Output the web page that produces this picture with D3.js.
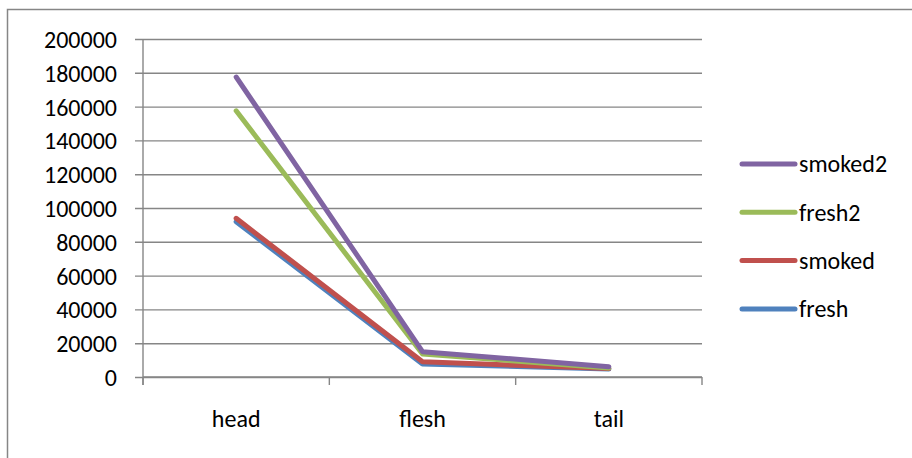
<!DOCTYPE html>
<html>
<head>
<meta charset="utf-8">
<script src="https://cdn.jsdelivr.net/npm/d3@7"></script>
<style>
  body { margin: 0; background: #fff; }
  svg { display: block; }
  text { font-family: Carlito, Lato, sans-serif; fill: #000; }
</style>
</head>
<body>
<div id="graph"></div>
<script>
const categories = ["head", "flesh", "tail"];
const seriesNames = ["fresh", "smoked", "fresh2", "smoked2"];
const fresh = [91900, 7700, 4700];
const smoked = [93900, 9000, 5000];
const fresh2 = [157500, 13600, 5300];
const smoked2 = [177500, 15000, 6100];
const yTicks = [0, 20000, 40000, 60000, 80000, 100000, 120000, 140000, 160000, 180000, 200000];

const colors = {fresh: "#4F81BD", smoked: "#C0504D", fresh2: "#9BBB59", smoked2: "#8064A2"};
const seriesValues = {fresh, smoked, fresh2, smoked2};

const width = 912;
const height = 458;
const margin = {top: 39, bottom: 81, left: 143, right: 210};

const svg = d3.select("#graph")
    .append("svg")
    .attr("width", width)
    .attr("height", height);

// chart area border (right and bottom fall outside the picture)
svg.append("rect")
    .attr("x", 7.5).attr("y", 9.5)
    .attr("width", 1000).attr("height", 1000)
    .attr("fill", "none")
    .attr("stroke", "#868686")
    .attr("stroke-width", 1.5);

const x = d3.scaleBand()
    .domain(categories)
    .range([margin.left, width - margin.right]);

const y = d3.scaleLinear()
    .domain([0, 200000])
    .range([height - margin.bottom, margin.top]);

// gridlines + y axis
svg.append("g")
    .attr("transform", `translate(${margin.left}, 0)`)
    .call(d3.axisLeft(y).tickValues(yTicks).tickFormat(d3.format("d"))
        .tickSize(-(width - margin.left - margin.right)).tickSizeOuter(0))
    .call(g => g.select(".domain").remove())
    .call(g => g.selectAll(".tick line").attr("stroke", "#868686").attr("stroke-width", 1.4).attr("x1", -8))
    .call(g => g.selectAll(".tick text").attr("font-size", "24px").attr("dy", "0.35em").attr("x", -26));

// y axis line
svg.append("line")
    .attr("x1", margin.left).attr("x2", margin.left)
    .attr("y1", y(200000)).attr("y2", y(0) + 8)
    .attr("stroke", "#868686").attr("stroke-width", 1.4);

// x axis
const xAxis = svg.append("g")
    .attr("transform", `translate(0, ${y(0)})`);
xAxis.append("line")
    .attr("x1", margin.left).attr("x2", width - margin.right)
    .attr("stroke", "#868686").attr("stroke-width", 1.4);
const edges = categories.map(c => x(c)).concat([x(categories[categories.length - 1]) + x.bandwidth()]);
xAxis.selectAll(".xtick")
    .data(edges)
    .join("line")
    .attr("x1", d => d).attr("x2", d => d)
    .attr("y1", 0).attr("y2", 8)
    .attr("stroke", "#868686").attr("stroke-width", 1.4);
xAxis.selectAll(".xlabel")
    .data(categories)
    .join("text")
    .attr("x", d => x(d) + x.bandwidth() / 2)
    .attr("y", 50)
    .attr("text-anchor", "middle")
    .attr("font-size", "24px")
    .text(d => d);

// lines
const line = d3.line()
    .x((d, i) => x(categories[i]) + x.bandwidth() / 2)
    .y(d => y(d));

svg.selectAll(".series")
    .data(seriesNames)
    .join("path")
    .attr("d", s => line(seriesValues[s]))
    .attr("fill", "none")
    .attr("stroke", s => colors[s])
    .attr("stroke-width", 5)
    .attr("stroke-linecap", "round")
    .attr("stroke-linejoin", "round");

// legend
const legendNames = seriesNames.slice().reverse();
const legend = svg.append("g");
const rows = legend.selectAll("g")
    .data(legendNames)
    .join("g")
    .attr("transform", (d, i) => `translate(742, ${164 + i * 48.3})`);
rows.append("line")
    .attr("x1", 0).attr("x2", 53)
    .attr("stroke", d => colors[d])
    .attr("stroke-width", 5)
    .attr("stroke-linecap", "round");
rows.append("text")
    .attr("x", 57)
    .attr("dy", "0.35em")
    .attr("font-size", "24px")
    .text(d => d);
</script>
</body>
</html>
